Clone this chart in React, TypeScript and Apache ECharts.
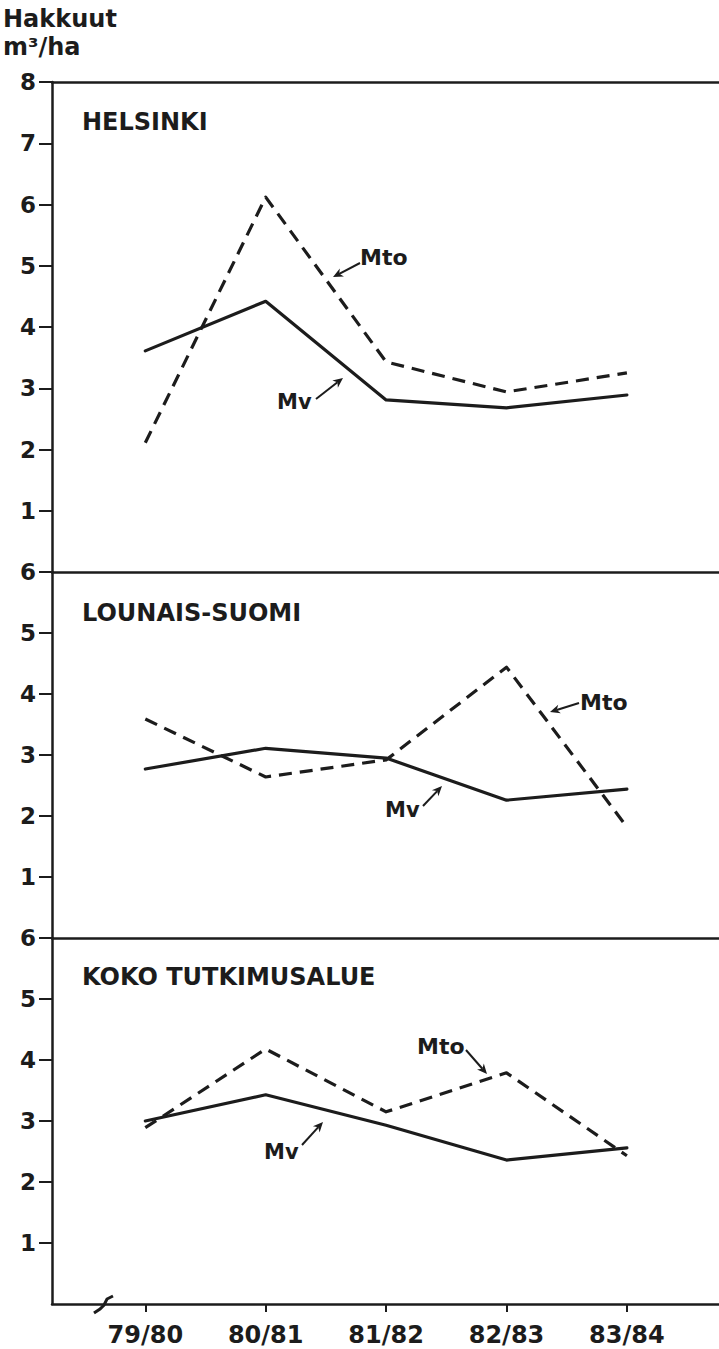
import React, { useEffect, useRef } from "react";
import * as echarts from "echarts";

const categories = ["79/80", "80/81", "81/82", "82/83", "83/84"];

const helsinkiMv = [3.61, 4.42, 2.81, 2.68, 2.89];
const helsinkiMto = [2.11, 6.12, 3.43, 2.94, 3.25];

const lounaisMv = [2.77, 3.11, 2.95, 2.26, 2.44];
const lounaisMto = [3.59, 2.64, 2.92, 4.44, 1.82];

const kokoMv = [3.0, 3.43, 2.93, 2.36, 2.56];
const kokoMto = [2.89, 4.18, 3.15, 3.79, 2.43];

const panelTitles = ["HELSINKI", "LOUNAIS-SUOMI", "KOKO TUTKIMUSALUE"];
const panelMax = [8, 6, 6];
const yAxisName = ["Hakkuut", "m³/ha"];

const INK = "#1c1c1c";
const FONT = '"DejaVu Sans", "Liberation Sans", sans-serif';

function arrow(x1: number, y1: number, x2: number, y2: number) {
  const dx = x2 - x1;
  const dy = y2 - y1;
  const len = Math.sqrt(dx * dx + dy * dy);
  const ux = dx / len;
  const uy = dy / len;
  const nx = -uy;
  const ny = ux;
  const hl = 10;
  const hw = 4.5;
  const bx = x2 - ux * hl;
  const by = y2 - uy * hl;
  const mx = x2 - ux * hl * 0.7;
  const my = y2 - uy * hl * 0.7;
  return [
    {
      type: "line",
      shape: { x1, y1, x2: mx, y2: my },
      style: { stroke: INK, lineWidth: 2 },
    },
    {
      type: "polygon",
      shape: {
        points: [
          [x2, y2],
          [bx + nx * hw, by + ny * hw],
          [mx, my],
          [bx - nx * hw, by - ny * hw],
        ],
      },
      style: { fill: INK },
    },
  ];
}

function label(text: string, x: number, y: number, size = 22) {
  return {
    type: "text",
    x,
    y,
    style: {
      text,
      fill: INK,
      fontSize: size,
      fontWeight: "bold",
      fontFamily: FONT,
      align: "left",
      verticalAlign: "middle",
    },
  };
}

export default function App() {
  const ref = useRef<HTMLDivElement>(null);

  useEffect(() => {
    if (!ref.current) return;
    const chart = echarts.init(ref.current, null, { renderer: "svg" });

    const gridTops = [82, 572, 938];
    const gridHeights = [490, 366, 366];
    const xMin = -0.775;
    const xMax = 4.765;
    const catIdx = categories.map((_, k) => k);

    const grids = gridTops.map((top, i) => ({
      left: 52,
      width: 680,
      top,
      height: gridHeights[i],
      show: false,
    }));

    const lineStyle = { color: INK, width: 2.5 };

    const xAxes: any[] = gridTops.map((_, i) => ({
      type: "value",
      gridIndex: i,
      position: i === 2 ? "bottom" : "top",
      min: xMin,
      max: xMax,
      splitLine: { show: false },
      axisLine: { show: true, onZero: false, lineStyle },
      axisTick: {
        show: i === 2,
        customValues: catIdx,
        length: 8,
        lineStyle: { color: INK, width: 2 },
      },
      axisLabel: {
        show: i === 2,
        customValues: catIdx,
        formatter: (v: number) => categories[Math.round(v)] ?? "",
        color: INK,
        fontSize: 24,
        fontWeight: "bold",
        fontFamily: FONT,
        margin: 19,
      },
    }));
    // top border line of the bottom panel
    xAxes.push({
      type: "value",
      gridIndex: 2,
      position: "top",
      min: xMin,
      max: xMax,
      splitLine: { show: false },
      axisLine: { show: true, onZero: false, lineStyle },
      axisTick: { show: false },
      axisLabel: { show: false },
    });

    const yAxes = gridTops.map((_, i) => {
      const tickVals = Array.from({ length: panelMax[i] }, (_, k) => k + 1);
      return {
        type: "value",
        gridIndex: i,
        position: "left",
        min: 0,
        max: panelMax[i],
        interval: 1,
        splitLine: { show: false },
        axisLine: { show: true, onZero: false, lineStyle },
        axisTick: {
          show: true,
          customValues: tickVals,
          length: 13,
          lineStyle: { color: INK, width: 2 },
        },
        axisLabel: {
          customValues: tickVals,
          formatter: (v: number) => String(v),
          color: INK,
          fontSize: 23,
          fontWeight: "bold",
          fontFamily: FONT,
          margin: 16,
        },
      };
    });

    const panels = [
      [helsinkiMv, helsinkiMto],
      [lounaisMv, lounaisMto],
      [kokoMv, kokoMto],
    ];

    const series: any[] = [];
    panels.forEach(([mv, mto], i) => {
      series.push({
        type: "line",
        name: "Mv",
        xAxisIndex: i,
        yAxisIndex: i,
        data: mv.map((v, k) => [k, v]),
        symbol: "none",
        lineStyle: { color: INK, width: 3.2, type: "solid", cap: "round", join: "round" },
      });
      series.push({
        type: "line",
        name: "Mto",
        xAxisIndex: i,
        yAxisIndex: i,
        data: mto.map((v, k) => [k, v]),
        symbol: "none",
        lineStyle: { color: INK, width: 3.2, type: [13, 8], cap: "butt", join: "round" },
      });
    });

    const graphic: any[] = [
      label(yAxisName[0], 3, 19, 24),
      label(yAxisName[1], 3, 47, 24),
      label(panelTitles[0], 82, 122, 24),
      label(panelTitles[1], 82, 613, 24),
      label(panelTitles[2], 82, 977, 24),
      // Helsinki
      label("Mto", 360, 257, 22),
      ...arrow(360, 263, 333, 277),
      label("Mv", 277, 402, 21),
      ...arrow(316, 399, 343, 378),
      // Lounais-Suomi
      label("Mto", 580, 702, 22),
      ...arrow(579, 703, 550, 712),
      label("Mv", 385, 810, 21),
      ...arrow(423, 806, 442, 786),
      // Koko
      label("Mto", 417, 1046, 22),
      ...arrow(466, 1050, 487, 1074),
      label("Mv", 264, 1152, 21),
      ...arrow(302, 1145, 323, 1122),
      // axis break mark
      {
        type: "polyline",
        shape: {
          points: [
            [94, 1313],
            [100, 1309],
            [104, 1305],
            [107, 1299],
            [113, 1296],
          ],
        },
        style: { stroke: INK, lineWidth: 3, fill: "none" },
      },
    ];

    chart.setOption({
      animation: false,
      backgroundColor: "#ffffff",
      grid: grids,
      xAxis: xAxes,
      yAxis: yAxes,
      series,
      graphic,
    });

    return () => chart.dispose();
  }, []);

  return (
    <div
      ref={ref}
      style={{ position: "absolute", left: 0, top: 0, width: 719, height: 1349, background: "#fff" }}
    />
  );
}
